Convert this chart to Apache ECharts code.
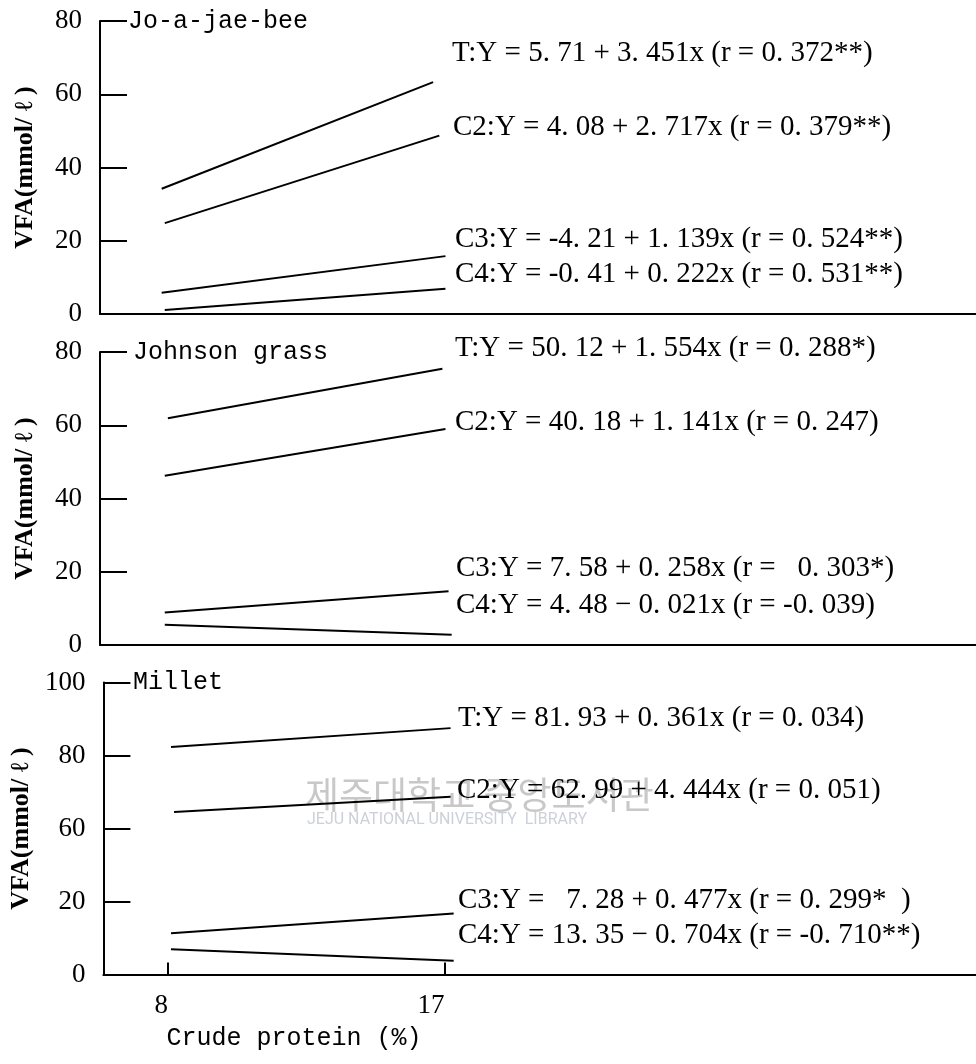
<!DOCTYPE html>
<html>
<head>
<meta charset="utf-8">
<script src="https://cdn.jsdelivr.net/npm/echarts@6/dist/echarts.min.js"></script>
<style>
  html, body { margin: 0; padding: 0; background: #fff; }
  #main { width: 976px; height: 1064px; }
</style>
</head>
<body>
<div id="main"></div>
<script>
// series order in every panel: T, C2, C3, C4
var seriesNames = ['T', 'C2', 'C3', 'C4'];
var panelTitles = ['Jo-a-jae-bee', 'Johnson grass', 'Millet'];

// regression lines: [x start, x end], [y start, y end]
var joaX = [[7.9, 16.7], [8.0, 16.9], [7.9, 17.1], [8.0, 17.1]];
var joaY = [[34.2, 63.3], [24.8, 48.7], [5.8, 15.8], [1.1, 6.9]];
var johnX = [[8.1, 17.0], [8.0, 17.1], [8.0, 17.2], [8.0, 17.3]];
var johnY = [[61.9, 75.4], [46.2, 59.0], [8.9, 14.7], [5.5, 2.8]];
var milX = [[8.1, 17.2], [8.2, 17.2], [8.1, 17.3], [8.1, 17.3]];
var milY = [[82.3, 87.5], [64.5, 68.7], [11.3, 16.7], [6.9, 3.8]];

var joaEq = [
  'T:Y = 5. 71 + 3. 451x (r = 0. 372**)',
  'C2:Y = 4. 08 + 2. 717x (r = 0. 379**)',
  'C3:Y = -4. 21 + 1. 139x (r = 0. 524**)',
  'C4:Y = -0. 41 + 0. 222x (r = 0. 531**)'
];
var johnEq = [
  'T:Y = 50. 12 + 1. 554x (r = 0. 288*)',
  'C2:Y = 40. 18 + 1. 141x (r = 0. 247)',
  'C3:Y = 7. 58 + 0. 258x (r =   0. 303*)',
  'C4:Y = 4. 48 \u2212 0. 021x (r = -0. 039)'
];
var milEq = [
  'T:Y = 81. 93 + 0. 361x (r = 0. 034)',
  'C2:Y = 62. 99 + 4. 444x (r = 0. 051)',
  'C3:Y =   7. 28 + 0. 477x (r = 0. 299*  )',
  'C4:Y = 13. 35 \u2212 0. 704x (r = -0. 710**)'
];

var yMax = [80, 80, 100];
var yStep = 20;
// Millet axis skips 40: 20 is followed directly by 60
var milBreak = { start: 20, end: 60, gap: 20 };
var xTicks = [8, 17];
var xName = 'Crude protein (%)';
var yName = 'VFA(mmol/ \u2113 )';

var panelX = [joaX, johnX, milX];
var panelY = [joaY, johnY, milY];
var panelEq = [joaEq, johnEq, milEq];

// layout (pixels)
var gridTop = [21, 352, 682.5];
var gridH = [293, 293, 292];
var eqLeft = [[452, 453, 455, 455], [455, 455, 456, 456], [458, 457, 458, 458]];
var eqMid = [[53, 127, 239, 274], [348, 422, 568, 605], [718, 790, 900, 935]];
var titleLeft = [128, 133, 133];

var serif = '"Liberation Serif", "Times New Roman", serif';
var mono = '"Liberation Mono", "DejaVu Sans Mono", monospace';

var chart = echarts.init(document.getElementById('main'));

var grids = [], xAxes = [], yAxes = [], series = [], graphics = [];

for (var p = 0; p < 3; p++) {
  grids.push({ left: 100, right: 0, top: gridTop[p], height: gridH[p] });
  var last = p === 2;
  xAxes.push({
    gridIndex: p,
    type: 'value',
    min: 5.9,
    max: 34.3,
    splitLine: { show: false },
    axisLine: { lineStyle: { color: '#000', width: 2 } },
    axisTick: {
      show: last,
      inside: true,
      length: 12,
      customValues: xTicks,
      lineStyle: { color: '#000', width: 2 }
    },
    axisLabel: {
      show: last,
      customValues: xTicks,
      margin: 18,
      // labels sit a little left of their ticks in the original
      formatter: function (v) { return v + (v >= 10 ? '    ' : '  '); },
      color: '#000',
      fontFamily: serif,
      fontSize: 27
    }
  });
  var ya = {
    gridIndex: p,
    type: 'value',
    position: 'left',
    min: 0,
    max: yMax[p],
    interval: yStep,
    name: yName,
    nameLocation: 'middle',
    nameGap: 62,
    nameTextStyle: { color: '#000', fontFamily: serif, fontWeight: 'bold', fontSize: 26 },
    splitLine: { show: false },
    axisLine: { show: true, lineStyle: { color: '#000', width: 2 } },
    axisTick: { show: true, inside: true, length: 27, lineStyle: { color: '#000', width: 2 } },
    axisLabel: { margin: 18, color: '#000', fontFamily: serif, fontSize: 27 }
  };
  if (last) {
    ya.breaks = [milBreak];
    ya.breakArea = { show: false, itemStyle: { opacity: 0 } };
  }
  yAxes.push(ya);

  for (var s = 0; s < seriesNames.length; s++) {
    series.push({
      name: panelTitles[p] + ' ' + seriesNames[s],
      type: 'line',
      xAxisIndex: p,
      yAxisIndex: p,
      symbol: 'none',
      silent: true,
      z: 5,
      lineStyle: { color: '#000', width: 2 },
      data: [
        [panelX[p][s][0], panelY[p][s][0]],
        [panelX[p][s][1], panelY[p][s][1]]
      ]
    });
    graphics.push({
      type: 'text',
      x: eqLeft[p][s],
      y: eqMid[p][s],
      style: {
        text: panelEq[p][s],
        font: '29px ' + serif,
        fill: '#000',
        textVerticalAlign: 'middle'
      }
    });
  }

  graphics.push({
    type: 'text',
    x: titleLeft[p],
    y: gridTop[p],
    style: { text: panelTitles[p], font: '25px ' + mono, fill: '#000', textVerticalAlign: 'middle' }
  });
}

// plain axis line for the Millet panel, so the break leaves no hole in it
yAxes.push({
  gridIndex: 2,
  type: 'value',
  position: 'left',
  min: 0,
  max: yMax[2],
  axisLine: { show: true, onZero: false, lineStyle: { color: '#000', width: 2 } },
  axisTick: { show: false },
  axisLabel: { show: false },
  splitLine: { show: false }
});

graphics.push({
  type: 'text',
  x: 294,
  y: 1038,
  style: { text: xName, font: '25px ' + mono, fill: '#000', textAlign: 'center', textVerticalAlign: 'middle' }
});

// library watermark of the scanned page
graphics.push({
  type: 'text',
  x: 305,
  y: 795,
  z: -1,
  style: { text: '제주대학교 중앙도서관', font: '37px "Noto Sans CJK KR"', fill: '#c8c8c8', textVerticalAlign: 'middle' }
});
graphics.push({
  type: 'text',
  x: 307,
  y: 820,
  z: -1,
  style: { text: 'JEJU NATIONAL UNIVERSITY  LIBRARY', font: '16px Roboto', fill: '#ccd0d8', textVerticalAlign: 'middle' }
});

var option = {
  backgroundColor: '#fff',
  animation: false,
  grid: grids,
  xAxis: xAxes,
  yAxis: yAxes,
  series: series,
  graphic: graphics
};

option && chart.setOption(option);
window.addEventListener('resize', chart.resize);
</script>
</body>
</html>
